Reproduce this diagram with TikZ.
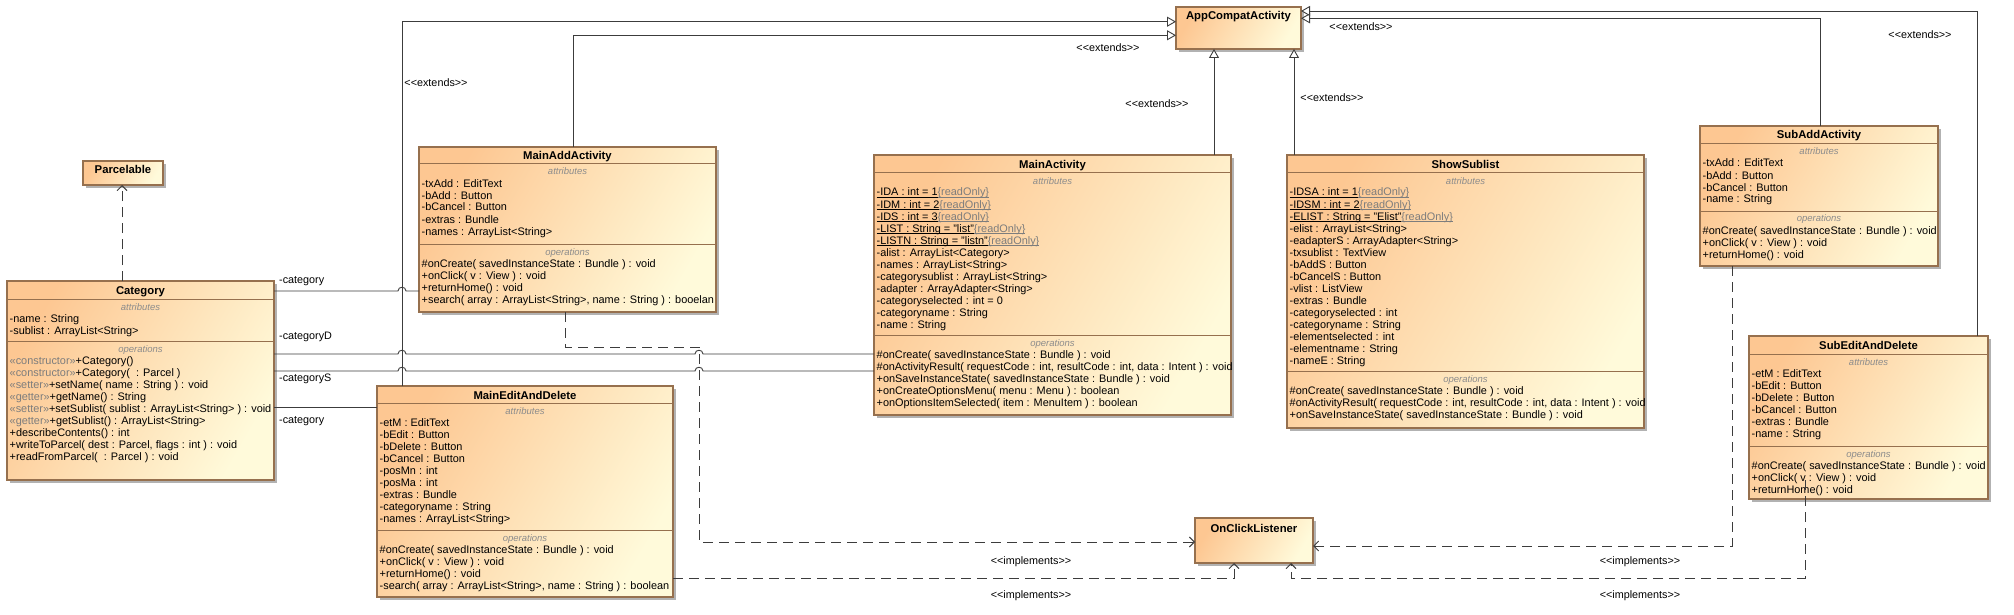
\documentclass[tikz,border=0pt]{standalone}
\usepackage{fontspec}
\setmainfont{Liberation Sans}
\usetikzlibrary{arrows.meta,shadows}
\definecolor{clsA}{RGB}{253,199,146}
\definecolor{clsB}{RGB}{255,250,218}
\definecolor{clsBorder}{RGB}{150,112,78}
\definecolor{lineC}{RGB}{60,60,60}
\definecolor{stereo}{RGB}{125,125,125}
\definecolor{clabC}{RGB}{140,140,140}
\newcommand\sty[1]{\textcolor{stereo}{«#1»}}
\newcommand\stereotxt[1]{<\kern0pt<#1>\kern0pt>}
\newcommand\statattr[1]{\underline{\smash{#1}}\textcolor{stereo}{\underline{\smash{\{readOnly\}}}}}
\tikzset{
  cls/.style={draw=clsBorder, line width=1.1pt, left color=clsA, right color=clsB, shading angle=60,
    inner sep=0pt, outer sep=0pt,
    drop shadow={shadow xshift=3pt, shadow yshift=-3pt, fill=black!50, opacity=0.6}},
  ttl/.style={font=\fontsize{11.3}{13}\selectfont\bfseries, inner sep=0pt, anchor=base},
  item/.style={font=\fontsize{10.9}{12}\selectfont, text=black, inner sep=0pt, anchor=base west},
  clab/.style={font=\fontsize{9.5}{11}\selectfont\itshape, text=clabC, inner sep=0pt, anchor=base},
  lbl/.style={font=\fontsize{10.8}{12}\selectfont, inner sep=0pt},
  sepl/.style={draw=clsBorder, line width=1pt},
  ext/.style={draw=lineC, line width=0.9pt, -{Triangle[length=9pt,width=10pt,fill=white]}},
  real/.style={draw=lineC, line width=0.9pt, dash pattern=on 10pt off 6pt, -{Straight Barb[length=5pt,width=10pt]}},
  assoc/.style={draw=lineC, line width=0.9pt},
}
\newcommand\umlbox[5]{\node[cls, anchor=north west, minimum width={(#4)-(#2)}, minimum height={(#5)-(#3)}] (#1) at (#2,#3) {};}
\newcommand\umlcomp[6]{%
  \draw[sepl] (#2,#4) -- (#3,#4);
  \node[clab] (#1-lab) at ({(#2+#3)/2},{#4+11}) {#5};
  \foreach \itm [count=\i from 0] in {#6} {\node[item] (#1-\i) at ({#2+2.5},{#4+23+12*\i}) {\itm};}%
}
\begin{document}
\begin{tikzpicture}[x=1pt,y=-1pt]
\useasboundingbox (0,0) rectangle (2014,615);
\fill[white] (0,0) rectangle (2014,615);

% ---------- boxes ----------
\umlbox{Par}{83}{161}{163}{185}
\umlbox{App}{1176}{7}{1301}{49}
\umlbox{OCL}{1195}{518}{1313}{563}
\umlbox{Cat}{7}{281}{274}{480}
\umlbox{MAdd}{419}{147}{716}{312}
\umlbox{MEdit}{377}{386}{673}{597}
\umlbox{MAct}{874}{155}{1231}{415}
\umlbox{Show}{1287}{155}{1644}{428}
\umlbox{SAdd}{1700}{126}{1938}{266}
\umlbox{SEdit}{1749}{336}{1988}{499}

% ---------- titles ----------
\node[ttl] (Par-t) at ([yshift=-13pt]Par.north) {Parcelable};
\node[ttl] (App-t) at ([yshift=-13pt]App.north) {AppCompatActivity};
\node[ttl] (OCL-t) at ([yshift=-14pt]OCL.north) {OnClickListener};
\node[ttl] (Cat-t) at ([yshift=-13pt]Cat.north) {Category};
\node[ttl] (MAdd-t) at ([yshift=-13pt]MAdd.north) {MainAddActivity};
\node[ttl] (MEdit-t) at ([yshift=-13pt]MEdit.north) {MainEditAndDelete};
\node[ttl] (MAct-t) at ([yshift=-13pt]MAct.north) {MainActivity};
\node[ttl] (Show-t) at ([yshift=-13pt]Show.north) {ShowSublist};
\node[ttl] (SAdd-t) at ([yshift=-13pt]SAdd.north) {SubAddActivity};
\node[ttl] (SEdit-t) at ([yshift=-13pt]SEdit.north) {SubEditAndDelete};

% ---------- compartments ----------
\umlcomp{CatA}{7}{274}{299}{attributes}{{-name : String},{-sublist : ArrayList<String>}}
\umlcomp{CatO}{7}{274}{341}{operations}{{\sty{constructor}+Category()},{\sty{constructor}+Category(\ \ : Parcel )},{\sty{setter}+setName( name : String ) : void},{\sty{getter}+getName() : String},{\sty{setter}+setSublist( sublist : ArrayList<String> ) : void},{\sty{getter}+getSublist() : ArrayList<String>},{+describeContents() : int},{+writeToParcel( dest : Parcel, flags : int ) : void},{+readFromParcel(\ \ : Parcel ) : void}}

\umlcomp{MAddA}{419}{716}{164}{attributes}{{-txAdd : EditText},{-bAdd : Button},{-bCancel : Button},{-extras : Bundle},{-names : ArrayList<String>}}
\umlcomp{MAddO}{419}{716}{244}{operations}{{\#onCreate( savedInstanceState : Bundle ) : void},{+onClick( v : View ) : void},{+returnHome() : void},{+search( array : ArrayList<String>, name : String ) : booelan}}

\umlcomp{MEditA}{377}{673}{403}{attributes}{{-etM : EditText},{-bEdit : Button},{-bDelete : Button},{-bCancel : Button},{-posMn : int},{-posMa : int},{-extras : Bundle},{-categoryname : String},{-names : ArrayList<String>}}
\umlcomp{MEditO}{377}{673}{530}{operations}{{\#onCreate( savedInstanceState : Bundle ) : void},{+onClick( v : View ) : void},{+returnHome() : void},{-search( array : ArrayList<String>, name : String ) : boolean}}

\umlcomp{MActA}{874}{1231}{173}{attributes}{{\statattr{-IDA : int = 1}},{\statattr{-IDM : int = 2}},{\statattr{-IDS : int = 3}},{\statattr{-LIST : String = "list"}},{\statattr{-LISTN : String = "listn"}},{-alist : ArrayList<Category>},{-names : ArrayList<String>},{-categorysublist : ArrayList<String>},{-adapter : ArrayAdapter<String>},{-categoryselected : int = 0},{-categoryname : String},{-name : String}}
\umlcomp{MActO}{874}{1231}{335}{operations}{{\#onCreate( savedInstanceState : Bundle ) : void},{\#onActivityResult( requestCode : int, resultCode : int, data : Intent ) : void},{+onSaveInstanceState( savedInstanceState : Bundle ) : void},{+onCreateOptionsMenu( menu : Menu ) : boolean},{+onOptionsItemSelected( item : MenuItem ) : boolean}}

\umlcomp{ShowA}{1287}{1644}{173}{attributes}{{\statattr{-IDSA : int = 1}},{\statattr{-IDSM : int = 2}},{\statattr{-ELIST : String = "Elist"}},{-elist : ArrayList<String>},{-eadapterS : ArrayAdapter<String>},{-txsublist : TextView},{-bAddS : Button},{-bCancelS : Button},{-vlist : ListView},{-extras : Bundle},{-categoryselected : int},{-categoryname : String},{-elementselected : int},{-elementname : String},{-nameE : String}}
\umlcomp{ShowO}{1287}{1644}{371}{operations}{{\#onCreate( savedInstanceState : Bundle ) : void},{\#onActivityResult( requestCode : int, resultCode : int, data : Intent ) : void},{+onSaveInstanceState( savedInstanceState : Bundle ) : void}}

\umlcomp{SAddA}{1700}{1938}{144}{attributes}{{-txAdd : EditText},{-bAdd : Button},{-bCancel : Button},{-name : String}}
\umlcomp{SAddO}{1700}{1938}{211}{operations}{{\#onCreate( savedInstanceState : Bundle ) : void},{+onClick( v : View ) : void},{+returnHome() : void}}

\umlcomp{SEditA}{1749}{1988}{354}{attributes}{{-etM : EditText},{-bEdit : Button},{-bDelete : Button},{-bCancel : Button},{-extras : Bundle},{-name : String}}
\umlcomp{SEditO}{1749}{1988}{446}{operations}{{\#onCreate( savedInstanceState : Bundle ) : void},{+onClick( v : View ) : void},{+returnHome() : void}}

% ---------- generalizations ----------
\draw[ext] ([xshift=5.5pt]MAdd.north) |- ([yshift=-7.3pt]App.west);
\draw[ext] ([xshift=-123pt]MEdit.north) |- ([yshift=6.3pt]App.west);
\draw[ext] ([xshift=161.5pt]MAct.north) -- ([xshift=-24.5pt]App.south);
\draw[ext] ([xshift=-171.5pt]Show.north) -- ([xshift=55.5pt]App.south);
\draw[ext] ([xshift=1pt]SAdd.north) |- ([yshift=9.7pt]App.east);
\draw[ext] ([xshift=108.5pt]SEdit.north) |- ([yshift=17pt]App.east);

\node[lbl, anchor=base] (e1) at (1108,52) {\stereotxt{extends}};
\node[lbl, anchor=base] (e2) at (436,87) {\stereotxt{extends}};
\node[lbl, anchor=base] (e3) at (1157,108) {\stereotxt{extends}};
\node[lbl, anchor=base] (e4) at (1332,102) {\stereotxt{extends}};
\node[lbl, anchor=base] (e5) at (1361,31) {\stereotxt{extends}};
\node[lbl, anchor=base] (e6) at (1920,39) {\stereotxt{extends}};

% ---------- associations ----------
\draw[assoc] ([yshift=89.5pt]Cat.east) -- (398,291) .. controls (398,286) and (406,286) .. (406,291) -- ([yshift=-61.5pt]MAdd.west);
\draw[assoc] ([yshift=26.5pt]Cat.east) -- (398,354) .. controls (398,349) and (406,349) .. (406,354) -- (695,354) .. controls (695,349) and (703,349) .. (703,354) -- ([yshift=-69pt]MAct.west);
\draw[assoc] ([yshift=9.5pt]Cat.east) -- (398,371) .. controls (398,366) and (406,366) .. (406,371) -- (695,371) .. controls (695,366) and (703,366) .. (703,371) -- ([yshift=-86pt]MAct.west);
\draw[assoc] ([yshift=-26.5pt]Cat.east) -- ([yshift=84.5pt]MEdit.west);

\node[lbl, anchor=base west] (r1) at (279,283) {-category};
\node[lbl, anchor=base west] (r2) at (279,339) {-categoryD};
\node[lbl, anchor=base west] (r3) at (279,381) {-categoryS};
\node[lbl, anchor=base west] (r4) at (279,423) {-category};

% ---------- realizations ----------
\draw[real] ([xshift=-18.5pt]Cat.north) -- ([xshift=-1pt]Par.south);
\draw[real] ([xshift=-2.5pt]MAdd.south) -- ++(0,35) -- ++(134,0) |- ([yshift=-1.5pt]OCL.west);
\draw[real] ([yshift=-86.5pt]MEdit.east) -| ([xshift=-20pt]OCL.south);
\draw[real] ([xshift=-87pt]SAdd.south) |- ([yshift=-5.5pt]OCL.east);
\draw[real] ([xshift=-63.5pt,yshift=19pt]SEdit.south) -- ++(0,98) -| ([xshift=37pt]OCL.south);

\node[lbl, anchor=base] (i1) at (1031,564) {\stereotxt{implements}};
\node[lbl, anchor=base] (i2) at (1031,598) {\stereotxt{implements}};
\node[lbl, anchor=base] (i3) at (1640,564) {\stereotxt{implements}};
\node[lbl, anchor=base] (i4) at (1640,598) {\stereotxt{implements}};
\end{tikzpicture}
\end{document}
